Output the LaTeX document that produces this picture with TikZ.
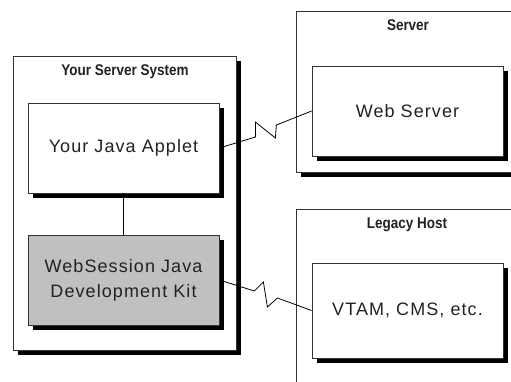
\documentclass[tikz,border=0pt]{standalone}
\usepackage{fontspec}
\setmainfont{Liberation Sans}
\newfontfamily\boxfont{Liberation Sans}[LetterSpace=6]
\newfontfamily\titlefont{Liberation Sans}[FakeStretch=0.87]
\usetikzlibrary{shadows}
\definecolor{boxgray}{HTML}{C0C0C0}
\definecolor{txt}{HTML}{222222}
\tikzset{
  shad/.style={drop shadow={shadow xshift=5pt, shadow yshift=-5pt, fill=black, opacity=1}},
  outer/.style={draw=black!80, line width=0.8pt, fill=white, shad, inner sep=0pt},
  inner/.style={draw=black!80, line width=0.8pt, fill=white, shad, minimum width=191pt, align=center,
     font=\boxfont\fontsize{18}{22}\selectfont, text=txt, inner sep=0pt},
  ttl/.style={font=\titlefont\bfseries\fontsize{15.5}{17}\selectfont, text=txt, inner sep=0pt},
  link/.style={draw=black, line width=0.8pt}
}
\begin{document}
\begin{tikzpicture}[x=1pt,y=-1pt]
\useasboundingbox (0,0) rectangle (511,381);
\clip (0,0) rectangle (511,381);
% outer boxes
\node[outer, minimum width=223pt, minimum height=294pt] (yss) at (124.5,203) {};
\node[outer, minimum width=224pt, minimum height=161pt] (srv) at (408,91.5) {};
\node[outer, minimum width=224pt, minimum height=191pt] (leg) at (408,304.5) {};
% titles
\node[ttl] (yssT) at (125,72) {Your Server System};
\node[ttl] (srvT) at (408,25) {Server};
\node[ttl] (legT) at (407,225) {Legacy Host};
% inner boxes
\node[inner, minimum height=90pt] (applet) at (123.5,148) {Your Java Applet};
\node[inner, minimum height=90pt, fill=boxgray] (jdk) at (123.5,280) {WebSession Java\\[3pt]Development Kit};
\node[inner, minimum height=90pt] (web) at (407.5,111) {Web Server};
\node[inner, minimum height=95pt] (vtam) at (407.5,310.5) {VTAM, CMS, etc.};
% connectors
\draw[link] (applet.south) -- (jdk.north);
\draw[link] (applet.east) -- ++(36,-11) -- ++(0,-15) -- ++(20,16) -- ++(1,-13) -- (web.west);
\draw[link] (jdk.east) -- ++(35,11) -- ++(9,-9) -- ++(4,25) -- ++(10,-9) -- (vtam.west);
\end{tikzpicture}
\end{document}
